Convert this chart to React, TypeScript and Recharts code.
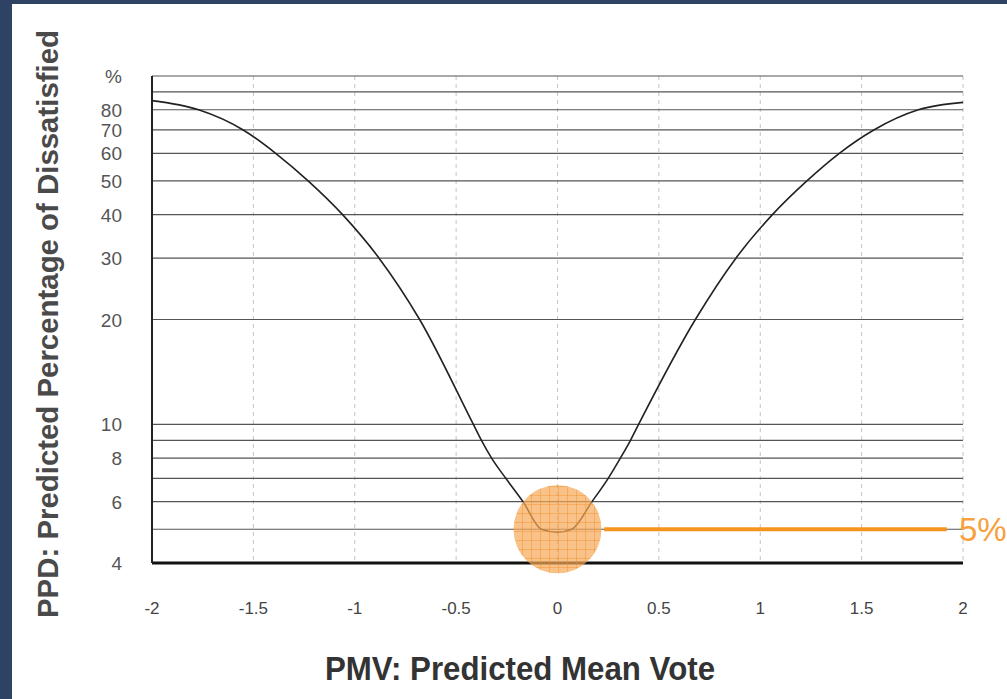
import { LineChart, Line, XAxis, YAxis, CartesianGrid, ReferenceDot, ReferenceLine, Label } from "recharts";

const pmvValues = [-2, -1.77, -1.55, -1.39, -1.23, -1.06, -0.88, -0.68, -0.415, -0.375, -0.325, -0.255, -0.17, -0.08, 0, 0.07, 0.17, 0.25, 0.31, 0.36, 0.4, 0.68, 0.88, 1.06, 1.23, 1.39, 1.56, 1.78, 2];
const ppdValues = [85, 80, 70, 60, 50, 40, 30, 20, 10, 9, 8, 7, 6, 5, 4.9, 5, 6, 7, 8, 9, 10, 20, 30, 40, 50, 60, 70, 80, 84];

const xTicks = [-2, -1.5, -1, -0.5, 0, 0.5, 1, 1.5, 2];
const yTicks = [4, 5, 6, 7, 8, 9, 10, 20, 30, 40, 50, 60, 70, 80, 90, 100];
const yTickLabels: Record<number, string> = {
  4: "4", 6: "6", 8: "8", 10: "10", 20: "20", 30: "30", 40: "40",
  50: "50", 60: "60", 70: "70", 80: "80", 100: "%",
};

const comfortLevel = 5;
const comfortLineFrom = 0.23;
const comfortLineTo = 1.92;

const data = pmvValues.map((pmv, i) => ({ pmv, ppd: ppdValues[i] }));

const FONT = "'Liberation Sans', Arial, sans-serif";

const XTick = ({ x, y, payload }: any) => (
  <text x={x} y={y + 51} textAnchor="middle" fontSize={17} fill="#444" fontFamily={FONT}>
    {payload.value}
  </text>
);

const YTick = ({ x, y, payload }: any) => {
  const label = yTickLabels[payload.value];
  if (!label) return null;
  return (
    <text x={x - 30} y={y + 7} textAnchor="end" fontSize={19} fill="#555" fontFamily={FONT}>
      {label}
    </text>
  );
};

export default function App() {
  return (
    <div style={{ position: "fixed", left: 0, top: 0, width: 1007, height: 699, background: "#2e4264", overflow: "hidden" }}>
      <div style={{ position: "absolute", left: 12, top: 4, width: 995, height: 695, background: "#fff" }} />
      <div style={{ position: "absolute", left: 0, top: 0 }}>
        <LineChart width={1007} height={699} data={data} margin={{ top: 76, right: 44, bottom: 106, left: 92 }}>
          <defs>
            <pattern id="orangeGrid" width="9" height="9" patternUnits="userSpaceOnUse">
              <rect width="9" height="9" fill="#f7a857" fillOpacity={0.7} />
              <path d="M 9 0 L 0 0 0 9" fill="none" stroke="#f08a1e" strokeWidth={0.8} />
            </pattern>
          </defs>
          <CartesianGrid horizontal={false} stroke="#c4c4c4" strokeDasharray="4 4" />
          <CartesianGrid vertical={false} stroke="#555" strokeWidth={1.2} />
          <XAxis
            dataKey="pmv"
            type="number"
            domain={[-2, 2]}
            ticks={xTicks}
            interval={0}
            tickSize={0}
            tickMargin={0}
            tick={<XTick />}
            axisLine={{ stroke: "#111", strokeWidth: 3 }}
            height={30}
          >
            <Label
              content={() => (
                <text x={520} y={680} textAnchor="middle" fontSize={34} fontWeight="bold" fill="#333" fontFamily={FONT} textLength={390} lengthAdjust="spacingAndGlyphs">
                  PMV: Predicted Mean Vote
                </text>
              )}
            />
          </XAxis>
          <YAxis
            scale="log"
            domain={[4, 100]}
            ticks={yTicks}
            interval={0}
            allowDataOverflow
            tickSize={0}
            tickMargin={0}
            tick={<YTick />}
            axisLine={{ stroke: "#222", strokeWidth: 2 }}
            width={60}
          >
            <Label
              content={() => (
                <text
                  x={58}
                  y={324}
                  transform="rotate(-90 58 324)"
                  textAnchor="middle"
                  fontSize={30}
                  fontWeight="bold"
                  fill="#4a4a4a"
                  fontFamily={FONT}
                  textLength={588}
                  lengthAdjust="spacingAndGlyphs"
                >
                  PPD: Predicted Percentage of Dissatisfied
                </text>
              )}
            />
          </YAxis>
          <Line type="monotone" dataKey="ppd" stroke="#222" strokeWidth={1.6} dot={false} isAnimationActive={false} />
          <ReferenceDot x={0} y={comfortLevel} r={44} fill="url(#orangeGrid)" stroke="none" />
          <ReferenceLine
            segment={[{ x: comfortLineFrom, y: comfortLevel }, { x: comfortLineTo, y: comfortLevel }]}
            stroke="#f7941d"
            strokeWidth={4}
          />
          <ReferenceDot x={2} y={comfortLevel} r={0} fill="none" stroke="none">
            <Label value="5%" position="right" offset={-4} fontSize={33} fill="#f7a040" fontFamily={FONT} />
          </ReferenceDot>
        </LineChart>
      </div>
    </div>
  );
}
